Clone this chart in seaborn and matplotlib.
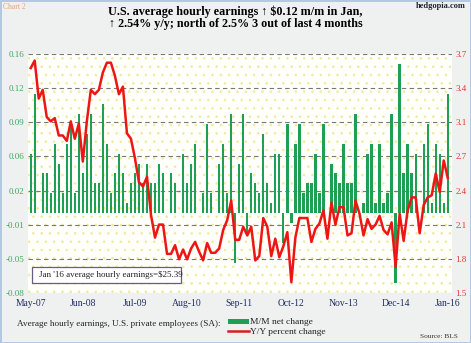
import numpy as np
import pandas as pd
import matplotlib
matplotlib.use('Agg')
import matplotlib.pyplot as plt
import seaborn as sns
from matplotlib.patches import Patch, Rectangle
from matplotlib.lines import Line2D

# ---------------- data ----------------
months = pd.date_range('2007-05-01', periods=105, freq='MS')

mm_change = [
    0.06, 0.12, 0.00, 0.04, 0.04, 0.02, 0.07, 0.05, 0.02, 0.07,
    0.09, 0.02, 0.10, 0.04, 0.08, 0.10, 0.03, 0.03, 0.11, 0.07,
    0.02, 0.04, 0.06, 0.04, 0.01, 0.03, 0.04, 0.05, 0.03, 0.05,
    0.03, 0.03, 0.05, 0.04, 0.00, 0.04, 0.03, 0.00, 0.06, 0.03,
    0.05, 0.07, 0.00, 0.02, 0.09, 0.02, 0.00, 0.05, 0.07, 0.02,
    0.10, -0.05, 0.05, 0.10, -0.02, 0.04, 0.03, 0.02, 0.08, 0.03,
    0.01, 0.06, 0.06, -0.03, 0.09, -0.01, 0.07, 0.09, 0.02, 0.03,
    0.03, 0.06, 0.02, 0.09, 0.00, 0.05, 0.04, 0.03, 0.07, 0.03,
    0.03, 0.10, 0.00, 0.01, 0.06, 0.07, 0.01, 0.07, 0.01, 0.02,
    0.10, -0.07, 0.15, 0.04, 0.07, 0.04, 0.06, 0.00, 0.07, 0.09,
    0.01, 0.07, 0.06, 0.01, 0.12,
]

yy_change = [
    3.57, 3.64, 3.29, 3.37, 3.12, 3.08, 3.11, 2.95, 2.95, 2.90,
    3.08, 2.92, 3.06, 2.71, 3.08, 3.37, 3.33, 3.37, 3.53, 3.62,
    3.62, 3.50, 3.33, 3.40, 2.97, 2.92, 2.74, 2.52, 2.48, 2.57,
    2.22, 2.01, 2.13, 2.13, 1.86, 1.86, 1.94, 1.81, 1.90, 1.81,
    1.91, 1.97, 1.88, 1.80, 1.96, 1.87, 1.87, 1.91, 2.08, 2.17,
    2.35, 1.99, 1.99, 2.11, 2.03, 2.11, 1.80, 1.84, 2.19, 2.11,
    1.84, 2.00, 1.83, 1.93, 2.06, 1.60, 2.01, 2.19, 2.19, 2.19,
    1.97, 2.09, 2.14, 2.26, 2.00, 2.33, 2.13, 2.29, 2.29, 2.03,
    2.05, 2.35, 2.23, 2.03, 2.18, 2.09, 2.13, 2.21, 2.08, 2.04,
    2.15, 1.74, 2.23, 1.98, 2.26, 2.38, 2.38, 2.05, 2.31, 2.38,
    2.40, 2.60, 2.43, 2.72, 2.56,
]

left_tick_labels = ['-0.08', '-0.05', '-0.01', '0.02', '0.06', '0.09', '0.12', '0.16']
right_tick_labels = ['1.5', '1.8', '2.1', '2.4', '2.7', '3.1', '3.4', '3.7']
x_tick_labels = ['May-07', 'Jun-08', 'Jul-09', 'Aug-10', 'Sep-11',
                 'Oct-12', 'Nov-13', 'Dec-14', 'Jan-16']

df = pd.DataFrame({'idx': np.arange(len(months)), 'month': months,
                   'mm': mm_change, 'yy': yy_change})

# ---------------- style ----------------
GREEN = '#1f9e55'
RED = '#ee1515'
LGREEN = '#3da860'
NAVY = '#1e2d5c'
SERIF = ['Liberation Serif', 'DejaVu Serif']

W, H = 471, 343
fig = plt.figure(figsize=(W / 100, H / 100), dpi=100)
fig.patch.set_facecolor('#eff0f0')
fig.patch.set_edgecolor('#b4c8e4')
fig.patch.set_linewidth(2.0)

plt.rcParams['hatch.linewidth'] = 0.6
ax = fig.add_axes([28 / W, 1 - 293 / H, 424 / W, 239 / H])
ax.patch.set_facecolor('#fffffb')
ax.patch.set_hatch('..')
ax.patch.set_edgecolor('#f1ea9e')

sns.barplot(data=df, x='idx', y='mm', ax=ax, color=GREEN, saturation=1,
            width=0.58, native_scale=True, linewidth=0, zorder=2)
ax.set_xlim(-0.67, 105.06)
ax.set_ylim(-0.08, 0.16)
ax.set_yticks(np.linspace(-0.08, 0.16, 8))
ax.set_yticklabels(left_tick_labels)
ax.yaxis.grid(True, color='#777777', linestyle=(0, (4, 3)), linewidth=0.8, zorder=1)
ax.set_axisbelow(True)
ax.xaxis.grid(False)
for s in ax.spines.values():
    s.set_visible(False)

tick_pos = [i for i, m in enumerate(months) if m.strftime('%b-%y') in x_tick_labels]
ax.set_xticks(tick_pos)
ax.set_xticklabels(x_tick_labels)
ax.tick_params(axis='x', length=0, pad=4, labelsize=6.9, labelcolor=NAVY)
ax.tick_params(axis='y', length=0, pad=2.5, labelsize=6.5, labelcolor=LGREEN)
for t in ax.get_xticklabels() + ax.get_yticklabels():
    t.set_family(SERIF)
ax.set_xlabel('')
ax.set_ylabel('')

ax2 = ax.twinx()
sns.lineplot(data=df, x='idx', y='yy', ax=ax2, color=RED, linewidth=1.8, zorder=3)
ax2.set_ylim(1.5, 3.7)
ax2.set_yticks(np.linspace(1.5, 3.7, 8))
ax2.set_yticklabels(right_tick_labels)
ax2.tick_params(axis='y', length=0, pad=2.5, labelsize=6.5, labelcolor='#e03535')
for t in ax2.get_yticklabels():
    t.set_family(SERIF)
ax2.set_xlabel('')
ax2.set_ylabel('')
ax2.grid(False)
for s in ax2.spines.values():
    s.set_visible(False)
ax2.set_xlim(-0.67, 105.06)

# annotation box
ax.add_patch(Rectangle(((32 - 28) / 424, (293 - 283.3) / 239), (181 - 32) / 424,
                       16.6 / 239, transform=ax.transAxes, facecolor='white',
                       edgecolor='#6a5a88', linewidth=0.9, zorder=4))
ax.text((39 - 28) / 424, (293 - 275) / 239, "Jan '16 average hourly earnings=$25.39",
        transform=ax.transAxes, ha='left', va='center', fontsize=6.5,
        family=SERIF, color='#222222', zorder=5)

# titles and texts
fig.text(235 / W, 1 - 11.5 / H, 'U.S. average hourly earnings \u2191 $0.12 m/m in Jan,',
         ha='center', va='center', fontsize=8.7, fontweight='bold', family=SERIF)
fig.text(236 / W, 1 - 24.5 / H, '\u2191 2.54% y/y; north of 2.5% 3 out of last 4 months',
         ha='center', va='center', fontsize=8.7, fontweight='bold', family=SERIF)
fig.text(3 / W, 1 - 7 / H, 'Chart 2', ha='left', va='center', fontsize=5.5,
         family=SERIF, color='#f0a070')
fig.text(466 / W, 1 - 6 / H, 'hedgopia.com', ha='right', va='center', fontsize=6,
         fontweight='bold', family=SERIF, color='#222222')
fig.text(17 / W, 1 - 324 / H, 'Average hourly earnings, U.S. private employees (SA):',
         ha='left', va='center', fontsize=6.6, family=SERIF, color='#222222')
fig.text(458 / W, 1 - 336 / H, 'Source: BLS', ha='right', va='center', fontsize=5.3,
         family=SERIF, color='#333333')

handles = [Patch(facecolor=GREEN, edgecolor='none', label='M/M net change'),
           Line2D([0], [0], color='#d42020', linewidth=1.8, label='Y/Y percent change')]
leg = fig.legend(handles=handles, loc='upper left',
                 bbox_to_anchor=(228 / W, 1 - 318.5 / H), frameon=False,
                 borderpad=0, borderaxespad=0, handlelength=2.2, handleheight=0.45,
                 handletextpad=0.15, labelspacing=0.15,
                 prop={'family': SERIF, 'size': 6.8})
for t in leg.get_texts():
    t.set_color('#222222')

fig.savefig('out.png', dpi=100, facecolor=fig.get_facecolor(), edgecolor=fig.get_edgecolor())
